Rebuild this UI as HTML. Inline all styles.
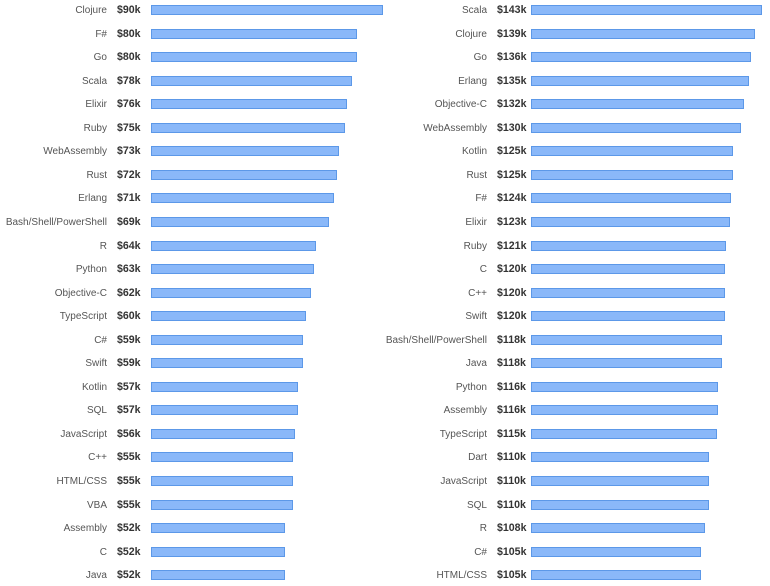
<!DOCTYPE html>
<html><head><meta charset="utf-8"><style>
body{margin:0;width:770px;height:584px;background:#fff;position:relative;overflow:hidden;font-family:"Liberation Sans",Arial,sans-serif;font-size:11px}
.r{position:absolute;height:21px;line-height:21px}
.l{position:absolute;text-align:right;color:#555;white-space:nowrap;font-size:10px}
.v{position:absolute;font-weight:bold;color:#333;font-size:10.6px}
.b{position:absolute;top:5px;height:8px;background:#8ab8f9;border:1px solid #5c98e8}
.A .l{left:0;width:107px}.A .v{left:117px}.A .b{left:151px}
.B .l{left:300px;width:187px}.B .v{left:497px}.B .b{left:531px}
</style></head><body>
<div class="r A" style="top:0px"><span class="l">Clojure</span><span class="v">$90k</span><span class="b" style="width:230px"></span></div>
<div class="r A" style="top:23.55px"><span class="l">F#</span><span class="v">$80k</span><span class="b" style="width:204px"></span></div>
<div class="r A" style="top:47.1px"><span class="l">Go</span><span class="v">$80k</span><span class="b" style="width:204px"></span></div>
<div class="r A" style="top:70.65px"><span class="l">Scala</span><span class="v">$78k</span><span class="b" style="width:199px"></span></div>
<div class="r A" style="top:94.2px"><span class="l">Elixir</span><span class="v">$76k</span><span class="b" style="width:194px"></span></div>
<div class="r A" style="top:117.75px"><span class="l">Ruby</span><span class="v">$75k</span><span class="b" style="width:192px"></span></div>
<div class="r A" style="top:141.3px"><span class="l">WebAssembly</span><span class="v">$73k</span><span class="b" style="width:186px"></span></div>
<div class="r A" style="top:164.85px"><span class="l">Rust</span><span class="v">$72k</span><span class="b" style="width:184px"></span></div>
<div class="r A" style="top:188.4px"><span class="l">Erlang</span><span class="v">$71k</span><span class="b" style="width:181px"></span></div>
<div class="r A" style="top:211.95px"><span class="l">Bash/Shell/PowerShell</span><span class="v">$69k</span><span class="b" style="width:176px"></span></div>
<div class="r A" style="top:235.5px"><span class="l">R</span><span class="v">$64k</span><span class="b" style="width:163px"></span></div>
<div class="r A" style="top:259.05px"><span class="l">Python</span><span class="v">$63k</span><span class="b" style="width:161px"></span></div>
<div class="r A" style="top:282.6px"><span class="l">Objective-C</span><span class="v">$62k</span><span class="b" style="width:158px"></span></div>
<div class="r A" style="top:306.15px"><span class="l">TypeScript</span><span class="v">$60k</span><span class="b" style="width:153px"></span></div>
<div class="r A" style="top:329.7px"><span class="l">C#</span><span class="v">$59k</span><span class="b" style="width:150px"></span></div>
<div class="r A" style="top:353.25px"><span class="l">Swift</span><span class="v">$59k</span><span class="b" style="width:150px"></span></div>
<div class="r A" style="top:376.8px"><span class="l">Kotlin</span><span class="v">$57k</span><span class="b" style="width:145px"></span></div>
<div class="r A" style="top:400.35px"><span class="l">SQL</span><span class="v">$57k</span><span class="b" style="width:145px"></span></div>
<div class="r A" style="top:423.9px"><span class="l">JavaScript</span><span class="v">$56k</span><span class="b" style="width:142px"></span></div>
<div class="r A" style="top:447.45px"><span class="l">C++</span><span class="v">$55k</span><span class="b" style="width:140px"></span></div>
<div class="r A" style="top:471px"><span class="l">HTML/CSS</span><span class="v">$55k</span><span class="b" style="width:140px"></span></div>
<div class="r A" style="top:494.55px"><span class="l">VBA</span><span class="v">$55k</span><span class="b" style="width:140px"></span></div>
<div class="r A" style="top:518.1px"><span class="l">Assembly</span><span class="v">$52k</span><span class="b" style="width:132px"></span></div>
<div class="r A" style="top:541.65px"><span class="l">C</span><span class="v">$52k</span><span class="b" style="width:132px"></span></div>
<div class="r A" style="top:565.2px"><span class="l">Java</span><span class="v">$52k</span><span class="b" style="width:132px"></span></div>

<div class="r B" style="top:0px"><span class="l">Scala</span><span class="v">$143k</span><span class="b" style="width:229px"></span></div>
<div class="r B" style="top:23.55px"><span class="l">Clojure</span><span class="v">$139k</span><span class="b" style="width:222px"></span></div>
<div class="r B" style="top:47.1px"><span class="l">Go</span><span class="v">$136k</span><span class="b" style="width:218px"></span></div>
<div class="r B" style="top:70.65px"><span class="l">Erlang</span><span class="v">$135k</span><span class="b" style="width:216px"></span></div>
<div class="r B" style="top:94.2px"><span class="l">Objective-C</span><span class="v">$132k</span><span class="b" style="width:211px"></span></div>
<div class="r B" style="top:117.75px"><span class="l">WebAssembly</span><span class="v">$130k</span><span class="b" style="width:208px"></span></div>
<div class="r B" style="top:141.3px"><span class="l">Kotlin</span><span class="v">$125k</span><span class="b" style="width:200px"></span></div>
<div class="r B" style="top:164.85px"><span class="l">Rust</span><span class="v">$125k</span><span class="b" style="width:200px"></span></div>
<div class="r B" style="top:188.4px"><span class="l">F#</span><span class="v">$124k</span><span class="b" style="width:198px"></span></div>
<div class="r B" style="top:211.95px"><span class="l">Elixir</span><span class="v">$123k</span><span class="b" style="width:197px"></span></div>
<div class="r B" style="top:235.5px"><span class="l">Ruby</span><span class="v">$121k</span><span class="b" style="width:193px"></span></div>
<div class="r B" style="top:259.05px"><span class="l">C</span><span class="v">$120k</span><span class="b" style="width:192px"></span></div>
<div class="r B" style="top:282.6px"><span class="l">C++</span><span class="v">$120k</span><span class="b" style="width:192px"></span></div>
<div class="r B" style="top:306.15px"><span class="l">Swift</span><span class="v">$120k</span><span class="b" style="width:192px"></span></div>
<div class="r B" style="top:329.7px"><span class="l">Bash/Shell/PowerShell</span><span class="v">$118k</span><span class="b" style="width:189px"></span></div>
<div class="r B" style="top:353.25px"><span class="l">Java</span><span class="v">$118k</span><span class="b" style="width:189px"></span></div>
<div class="r B" style="top:376.8px"><span class="l">Python</span><span class="v">$116k</span><span class="b" style="width:185px"></span></div>
<div class="r B" style="top:400.35px"><span class="l">Assembly</span><span class="v">$116k</span><span class="b" style="width:185px"></span></div>
<div class="r B" style="top:423.9px"><span class="l">TypeScript</span><span class="v">$115k</span><span class="b" style="width:184px"></span></div>
<div class="r B" style="top:447.45px"><span class="l">Dart</span><span class="v">$110k</span><span class="b" style="width:176px"></span></div>
<div class="r B" style="top:471px"><span class="l">JavaScript</span><span class="v">$110k</span><span class="b" style="width:176px"></span></div>
<div class="r B" style="top:494.55px"><span class="l">SQL</span><span class="v">$110k</span><span class="b" style="width:176px"></span></div>
<div class="r B" style="top:518.1px"><span class="l">R</span><span class="v">$108k</span><span class="b" style="width:172px"></span></div>
<div class="r B" style="top:541.65px"><span class="l">C#</span><span class="v">$105k</span><span class="b" style="width:168px"></span></div>
<div class="r B" style="top:565.2px"><span class="l">HTML/CSS</span><span class="v">$105k</span><span class="b" style="width:168px"></span></div>
</body></html>
